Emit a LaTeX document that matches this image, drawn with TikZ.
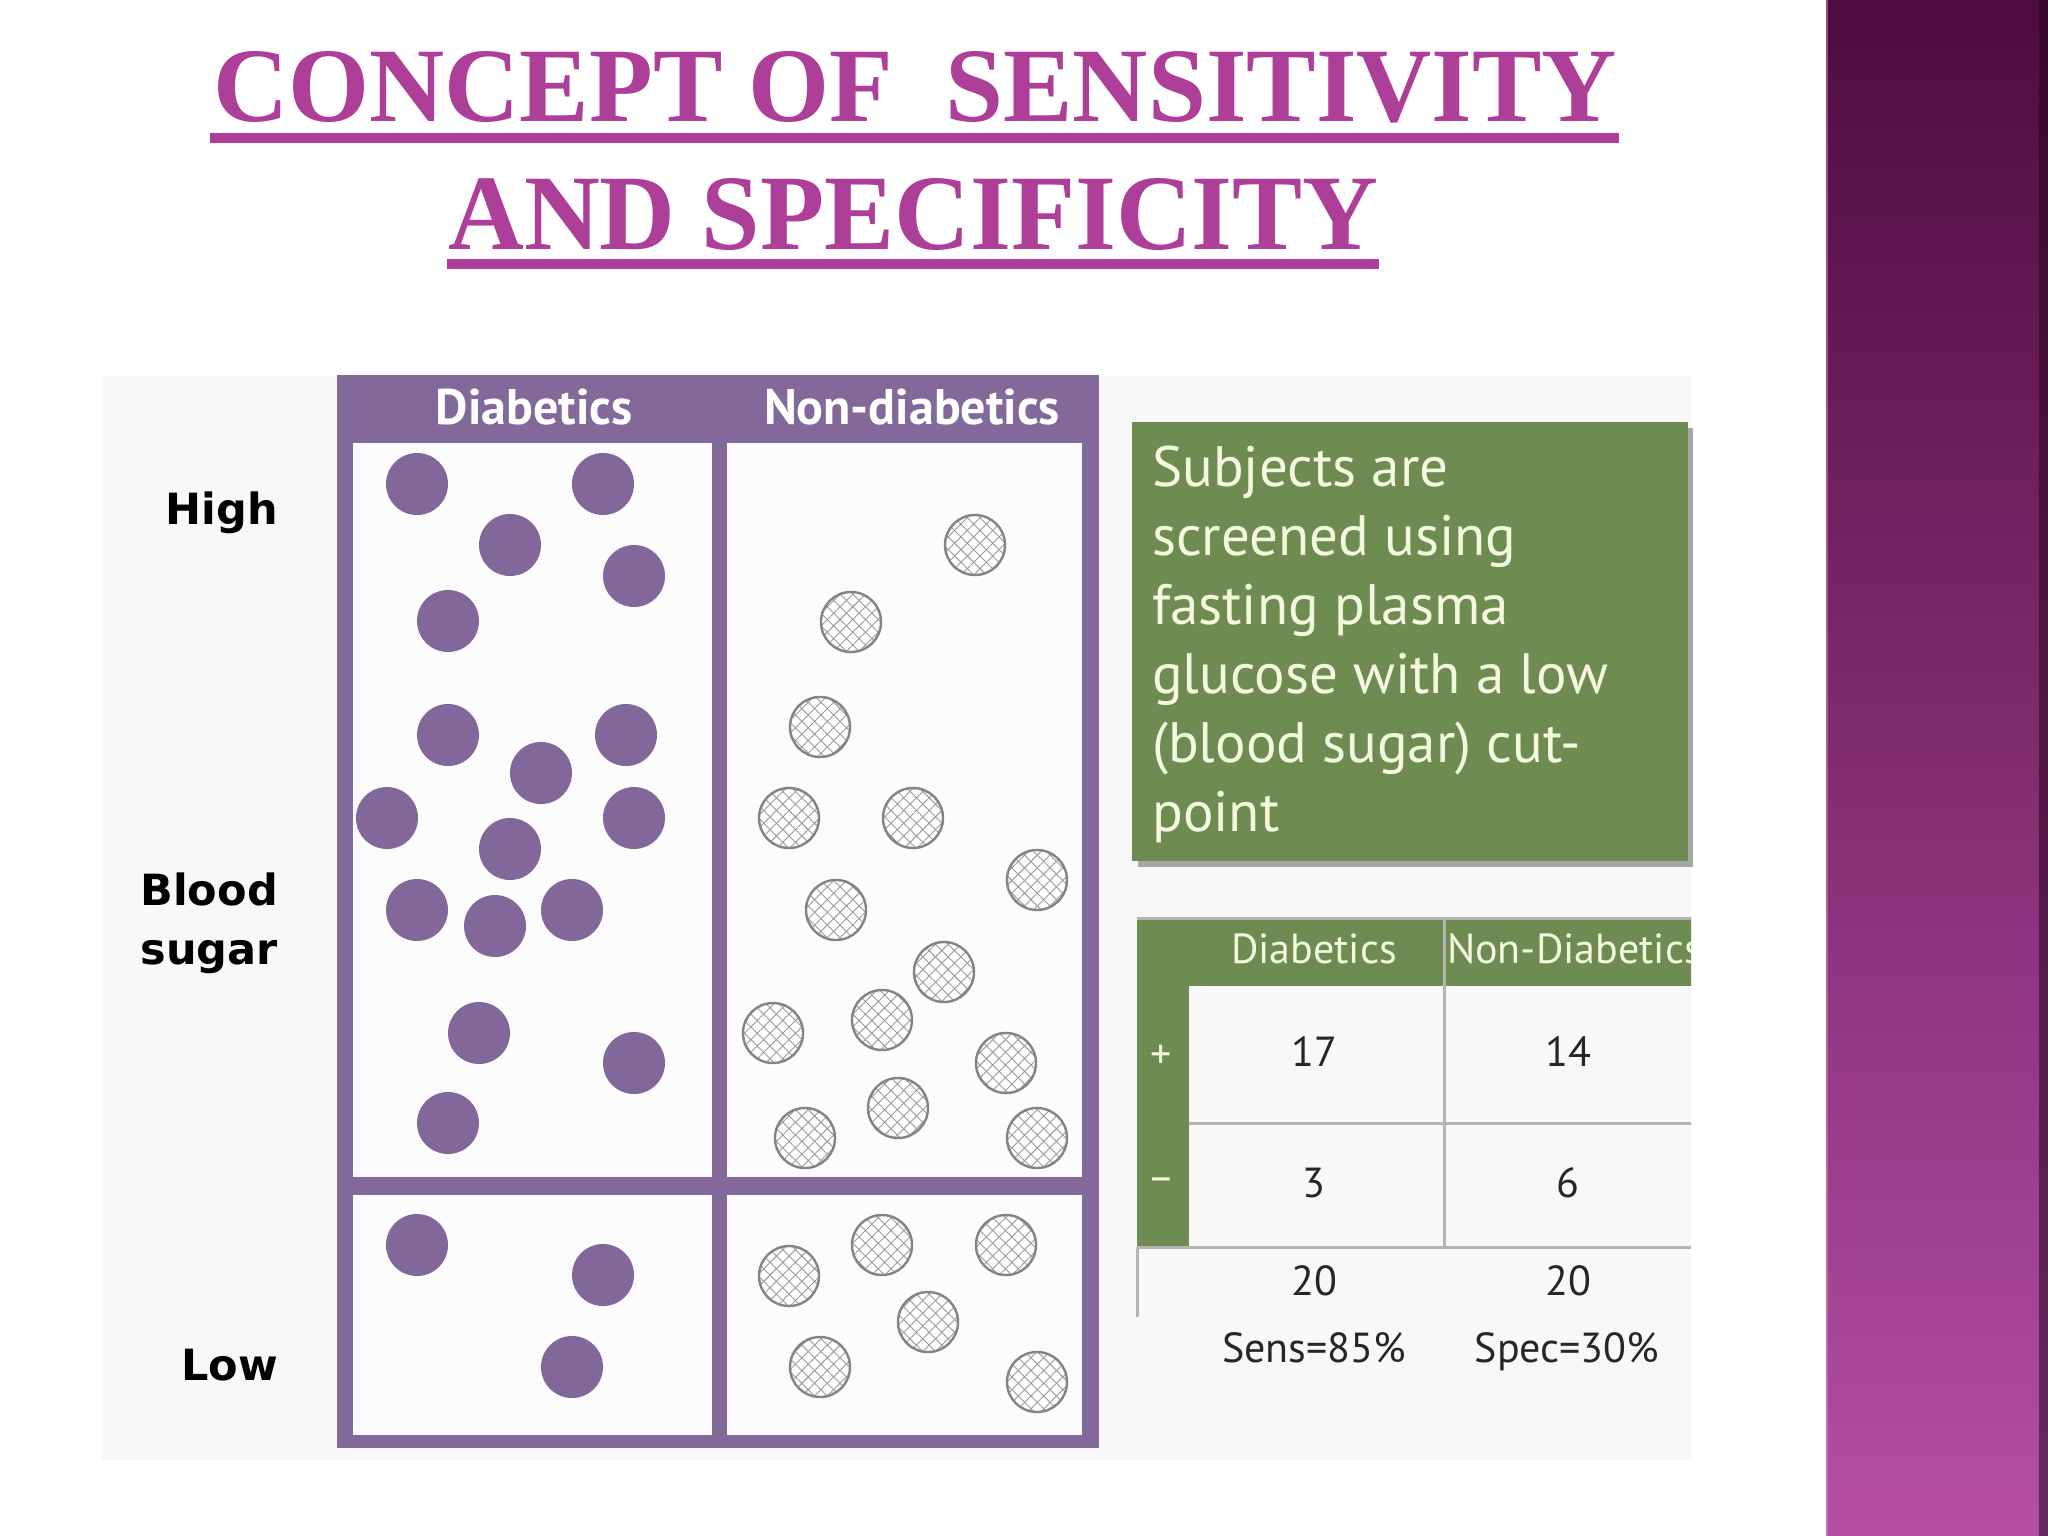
\documentclass[tikz,border=0pt]{standalone}
\usepackage{fontspec}
\setmainfont{Liberation Serif}
\newfontfamily\myr{PT Sans}
\newfontfamily\vlbl{DejaVu Sans}
\usetikzlibrary{patterns.meta}
\definecolor{frameP}{HTML}{82699A}
\definecolor{dotP}{HTML}{82679A}
\definecolor{cellC}{HTML}{FDFCFD}
\definecolor{panelC}{HTML}{F9F8F9}
\definecolor{titleC}{HTML}{AD3F99}
\definecolor{greenC}{HTML}{6E8C52}
\definecolor{creamC}{HTML}{F3F8DF}
\definecolor{hatchC}{HTML}{9A9A9A}
\definecolor{ringC}{HTML}{848484}
\definecolor{gridC}{HTML}{B4B4B4}
\definecolor{barTop}{HTML}{4E0B3F}
\definecolor{barMid}{HTML}{8B387C}
\definecolor{barBot}{HTML}{B44EA5}
\tikzset{
  hdr/.style={inner sep=0pt, text=white, font=\myr\bfseries\fontsize{50}{56}\selectfont},
  side/.style={inner sep=0pt, text=black, font=\vlbl\bfseries\fontsize{43}{59}\selectfont},
  tcell/.style={inner sep=0pt, text=black!85, font=\myr\fontsize{42}{50}\selectfont},
  thead/.style={inner sep=0pt, text=creamC, font=\myr\fontsize{42}{50}\selectfont},
  gline/.style={draw=gridC, line width=3pt},
  titletext/.style={inner sep=0pt, text=titleC, anchor=base west}
}
\begin{document}
\begin{tikzpicture}[x=1pt,y=-1pt]
\useasboundingbox (0,0) rectangle (2048,1536);
\fill[white] (0,0) rectangle (2048,1536);
% right decorative bar
\shade[top color=barTop, middle color=barMid, bottom color=barBot] (1826,0) rectangle (2048,1536);
\shade[top color=barTop!70!black, bottom color=barBot!55!black] (2039,0) rectangle (2048,1536);
\fill[barBot!60!white, opacity=0.5] (1826,0) rectangle (1828,1536);
% title
\node[titletext] (t1) at (213,122) {\resizebox{1404pt}{70pt}{\bfseries CONCEPT OF\ \ SENSITIVITY}};
\fill[titleC] (210,133) rectangle (1619,143);
\node[titletext] (t2) at (448,249) {\resizebox{930pt}{71pt}{\bfseries AND SPECIFICITY}};
\fill[titleC] (447,259) rectangle (1379,269);
% panel
\fill[panelC] (102,376) rectangle (1691,1460);
% frame
\fill[frameP] (337,375) rectangle (1099,1448);
\fill[cellC] (353,443) rectangle (712,1177);
\fill[cellC] (727,443) rectangle (1082,1177);
\fill[cellC] (353,1195) rectangle (712,1435);
\fill[cellC] (727,1195) rectangle (1082,1435);
\node[hdr, anchor=base] (hd) at (534,424) {Diabetics};
\node[hdr, anchor=base] (hn) at (912,424) {Non-diabetics};
% side labels
\node[side, anchor=base east] (high) at (278,524) {High};
\node[side, anchor=base east] (blood) at (278,905) {\begin{tabular}[t]{@{}r@{}}Blood\\sugar\end{tabular}};
\node[side, anchor=base east] (low) at (278,1380) {Low};
% diabetic dots
\foreach \x/\y in {417/484, 603/484, 510/545, 634/576, 448/621, 448/735, 626/735, 541/773,
  387/818, 634/818, 510/849, 417/910, 495/926, 572/910, 479/1033, 634/1063, 448/1123,
  417/1245, 603/1275, 572/1367}
  {\fill[dotP] (\x,\y) circle (31);}
% non-diabetic hatched dots
\foreach \x/\y in {975/545, 851/622, 820/727, 789/818, 913/818, 1037/880, 836/910, 944/972,
  773/1033, 882/1020, 1006/1063, 898/1108, 805/1138, 1037/1138,
  789/1276, 882/1245, 1006/1245, 928/1322, 820/1367, 1037/1382}
  {\fill[white] (\x,\y) circle (31);
   \fill[pattern={Lines[angle=45,distance=9pt,line width=0.9pt]}, pattern color=hatchC] (\x,\y) circle (31);
   \fill[pattern={Lines[angle=-45,distance=9pt,line width=0.9pt]}, pattern color=hatchC] (\x,\y) circle (31);
   \draw[ringC, line width=2.4pt] (\x,\y) circle (30);}
% green text box
\fill[black!35] (1138,428) rectangle (1693,867);
\fill[greenC] (1132,422) rectangle (1688,861);
\node[inner sep=0pt, anchor=base west, text=creamC, font=\myr\fontsize{57}{69}\selectfont] (gtext) at (1152,486)
  {\begin{tabular}[t]{@{}l@{}}Subjects are\\screened using\\fasting plasma\\glucose with a low\\(blood sugar) cut-\\point\end{tabular}};
% table
\begin{scope}
\clip (1100,880) rectangle (1691,1400);
\fill[greenC] (1137,918) rectangle (1700,986);
\fill[greenC] (1137,986) rectangle (1189,1247);
\draw[gline] (1137,918) -- (1700,918);
\draw[gline] (1189,1123) -- (1700,1123);
\draw[gline] (1137,1247) -- (1700,1247);
\draw[gline] (1444,918) -- (1444,1247);
\draw[gline] (1137,1247) -- (1137,1317);
\node[thead, anchor=base] (th1) at (1314,963) {Diabetics};
\node[thead, anchor=base west] (th2) at (1447,963) {Non-Diabetics};
\node[thead, anchor=center] (tp) at (1161,1057) {+};
\node[thead, anchor=center] (tm) at (1161,1185) {\textendash};
\node[tcell, anchor=base] (c11) at (1314,1066) {17};
\node[tcell, anchor=base] (c12) at (1568,1066) {14};
\node[tcell, anchor=base] (c21) at (1314,1197) {3};
\node[tcell, anchor=base] (c22) at (1568,1197) {6};
\node[tcell, anchor=base] (s1) at (1314,1295) {20};
\node[tcell, anchor=base] (s2) at (1568,1295) {20};
\node[tcell, anchor=base] (sens) at (1314,1362) {Sens=85\%};
\node[tcell, anchor=base] (spec) at (1567,1362) {Spec=30\%};
\end{scope}
\end{tikzpicture}
\end{document}
